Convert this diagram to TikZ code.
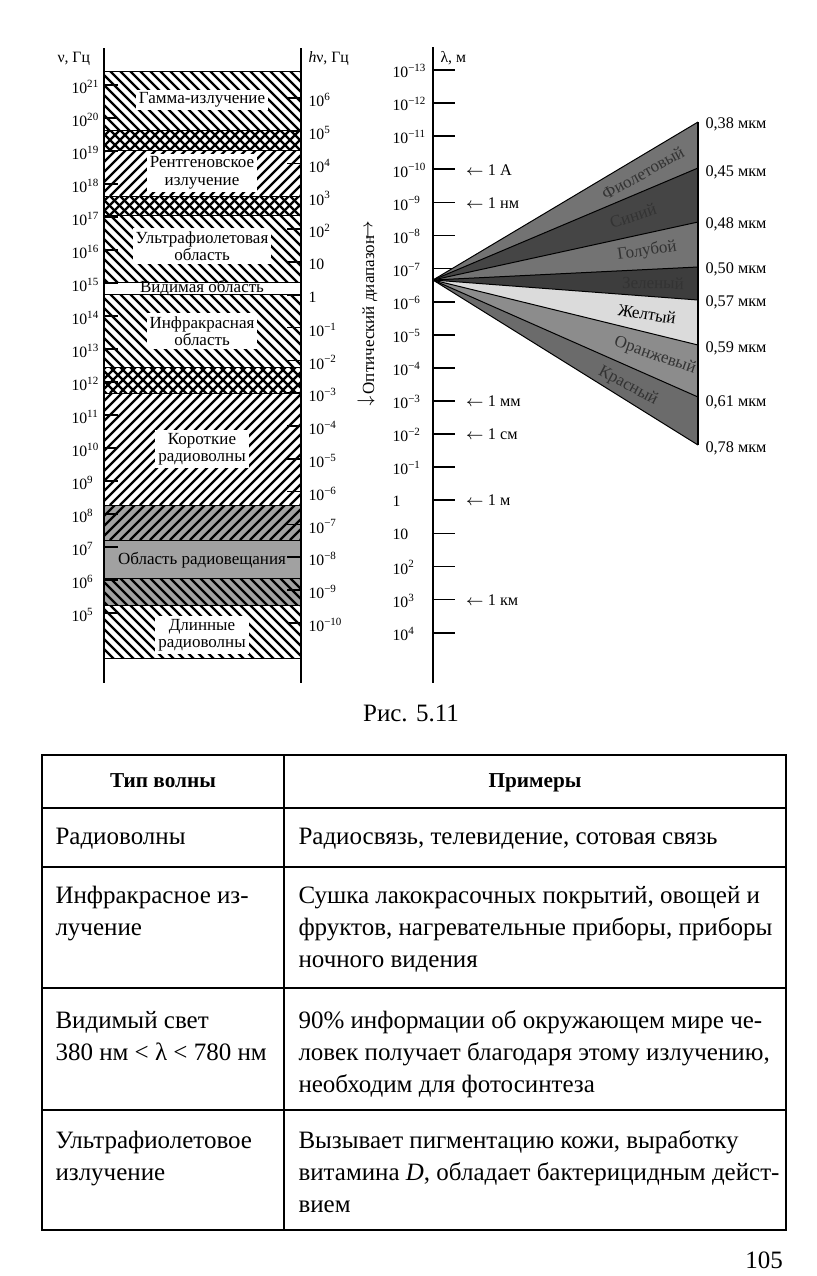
\documentclass[tikz,border=0pt]{standalone}
\usepackage{fontspec}
\setmainfont{Liberation Serif}
\usetikzlibrary{positioning}

\definecolor{cviolet}{gray}{0.45}
\definecolor{cblue}{gray}{0.27}
\definecolor{ccyan}{gray}{0.45}
\definecolor{cgreen}{gray}{0.24}
\definecolor{cyellow}{gray}{0.86}
\definecolor{corange}{gray}{0.55}
\definecolor{cred}{gray}{0.42}
\definecolor{cradio}{gray}{0.63}

\begin{document}
\begin{tikzpicture}[x=0.4pt,y=-0.4pt,
  hatch/.style={line width=0.9pt},
  bandline/.style={line width=0.3pt},
  axis/.style={line width=0.7pt},
  lbl/.style={font=\fontsize{6.8}{7}\selectfont,align=center,fill=white,inner sep=1.2pt},
  tck/.style={font=\fontsize{6.3}{7}\selectfont,anchor=west,inner sep=0pt},
  clr/.style={font=\fontsize{6.8}{7}\selectfont,text=black!80,inner sep=0pt},
  wl/.style={font=\fontsize{6.5}{7}\selectfont,anchor=west,inner sep=0pt},
  cell/.style={font=\fontsize{10}{12.8}\selectfont,align=left,anchor=base west,inner sep=0pt},
  head/.style={font=\fontsize{8.5}{10}\selectfont\bfseries,anchor=base,inner sep=0pt},
  grid/.style={line width=0.75pt}
]
\useasboundingbox (0,0) rectangle (816,1276);

% frequency column: bands
\fill[cradio] (104,505) rectangle (301,605);
\foreach \ya/\yb in {71/130,130/150,196/215,215/282,294/367,367/393,578/605,605/658}{
  \begin{scope}
    \clip (104,\ya) rectangle (301,\yb);
    \foreach \x in {-30,-20,...,300} \draw[hatch] (\x,\ya) -- ++(130,130);
  \end{scope}
}
\foreach \ya/\yb in {130/150,150/196,196/215,367/393,393/505,505/540}{
  \begin{scope}
    \clip (104,\ya) rectangle (301,\yb);
    \foreach \x in {-30,-20,...,300} \draw[hatch] (\x,\yb) -- ++(130,-130);
  \end{scope}
}
\foreach \y in {71,130,150,196,215,282,294,367,393,505,540,578,605,658}
  \draw[bandline] (104,\y) -- (301,\y);
\draw[axis] (104,48) -- (104,683);
\draw[axis] (301,48) -- (301,683);

% left scale
\node[tck] (nuax) at (57,59) {ν, Гц};
\foreach \k in {0,...,16}{
  \pgfmathtruncatemacro\e{21-\k}
  \draw[axis] (104,85+33*\k) -- ++(14,0);
  \node[tck] (nu\k) at (71,87+33*\k) {10\textsuperscript{\e}};
}

% right scale
\node[tck] (hnuax) at (308,59) {\textit{h}ν, Гц};
\foreach \k in {0,...,16}{
  \pgfmathtruncatemacro\e{6-\k}
  \pgfmathtruncatemacro\m{\k-6}
  \draw[axis] (301,98+32.8*\k) -- ++(-14,0);
  \node[tck] (hnu\k) at (308,100+32.8*\k)
    {\ifnum\e=1 10\else\ifnum\e=0 1\else\ifnum\e<0 10\textsuperscript{−\m}\else 10\textsuperscript{\e}\fi\fi\fi};
}

% band names
\node[lbl] (gamma) at (202,100) {Гамма-излучение};
\node[lbl] (xray) at (202,173) {Рентгеновское\\излучение};
\node[lbl] (uv) at (202,246) {Ультрафиолетовая\\область};
\node[font=\fontsize{6.8}{7}\selectfont,inner sep=0pt] (vis) at (202,288) {Видимая область};
\node[lbl] (ir) at (202,331) {Инфракрасная\\область};
\node[lbl] (short) at (202,449) {Короткие\\радиоволны};
\node[font=\fontsize{6.8}{7}\selectfont,inner sep=0pt] (bcast) at (202,560) {Область радиовещания};
\node[lbl] (long) at (202,635) {Длинные\\радиоволны};

% wavelength axis
\draw[axis] (433,47) -- (433,683);
\node[tck] (lamax) at (440,58) {λ, м};
\foreach \k in {0,...,17}{
  \pgfmathtruncatemacro\e{\k-13}
  \pgfmathtruncatemacro\m{13-\k}
  \draw[axis] (433,70+33.1*\k) -- ++(22,0);
  \node[tck] (lam\k) at (392,71+33.1*\k)
    {\ifnum\e=1 10\else\ifnum\e=0 1\else\ifnum\e<0 10\textsuperscript{−\m}\else 10\textsuperscript{\e}\fi\fi\fi};
}
\node[wl] (ang) at (465,170) {$\leftarrow$ 1 A};
\node[wl] (nm) at (465,203) {$\leftarrow$ 1 нм};
\node[wl] (mm) at (465,401) {$\leftarrow$ 1 мм};
\node[wl] (cm) at (465,434) {$\leftarrow$ 1 см};
\node[wl] (m) at (465,500) {$\leftarrow$ 1 м};
\node[wl] (km) at (465,600) {$\leftarrow$ 1 км};

% optical range
\node[rotate=90,font=\fontsize{6.8}{7}\selectfont,inner sep=0pt] (opt) at (370,315) {Оптический диапазон};
\node[rotate=90,font=\fontsize{6.8}{7}\selectfont,inner sep=0pt] (optup) at (369,231) {$\rightarrow$};
\node[font=\fontsize{6.8}{7}\selectfont,inner sep=0pt] (optdn) at (366,402) {$\rightarrow$};

% visible spectrum fan
\coordinate (apex) at (433,280);
\coordinate (w38) at (698,122);
\coordinate (w45) at (698,168);
\coordinate (w48) at (698,222);
\coordinate (w50) at (698,267);
\coordinate (w57) at (698,300);
\coordinate (w59) at (698,345);
\coordinate (w61) at (698,397);
\coordinate (w78) at (698,445);
\fill[cviolet] (apex) -- (w38) -- (w45) -- cycle;
\fill[cblue] (apex) -- (w45) -- (w48) -- cycle;
\fill[ccyan] (apex) -- (w48) -- (w50) -- cycle;
\fill[cgreen] (apex) -- (w50) -- (w57) -- cycle;
\fill[cyellow] (apex) -- (w57) -- (w59) -- cycle;
\fill[corange] (apex) -- (w59) -- (w61) -- cycle;
\fill[cred] (apex) -- (w61) -- (w78) -- cycle;
\foreach \w in {w38,w45,w48,w50,w57,w59,w61,w78}
  \draw[line width=0.4pt] (apex) -- (\w);
\draw[line width=0.5pt] (w38) -- (w78);

\node[clr,rotate=29] (violet) at (643,173) {Фиолетовый};
\node[clr,rotate=18] (blue) at (633,216) {Синий};
\node[clr,rotate=8] (cyan) at (647,251) {Голубой};
\node[clr,rotate=-1] (green) at (653,283) {Зеленый};
\node[clr,rotate=-9,text=black] (yellow) at (647,314) {Желтый};
\node[clr,rotate=-19] (orange) at (655,356) {Оранжевый};
\node[clr,rotate=-28] (red) at (628,386) {Красный};

\node[wl] (l38) at (705,124) {0,38 мкм};
\node[wl] (l45) at (705,172) {0,45 мкм};
\node[wl] (l48) at (705,224) {0,48 мкм};
\node[wl] (l50) at (705,269) {0,50 мкм};
\node[wl] (l57) at (705,302) {0,57 мкм};
\node[wl] (l59) at (705,348) {0,59 мкм};
\node[wl] (l61) at (705,402) {0,61 мкм};
\node[wl] (l78) at (705,448) {0,78 мкм};

\node[font=\fontsize{10}{12}\selectfont] (cap) at (411,713) {Рис. 5.11};

% table (base anchor of a multi-line cell is its last line)
\draw[grid] (42,755) rectangle (786,1230);
\draw[grid] (284,755) -- (284,1230);
\foreach \y in {808,867,988,1110}
  \draw[grid] (42,\y) -- (786,\y);
\node[head] (thtype) at (163,787) {Тип волны};
\node[head] (thex) at (535,787) {Примеры};
\node[cell] (r1a) at (55,844) {Радиоволны};
\node[cell] (r1b) at (298,844) {Радиосвязь, телевидение, сотовая связь};
\node[cell] (r2a) at (55,935) {Инфракрасное из-\\лучение};
\node[cell] (r2b) at (298,967) {Сушка лакокрасочных покрытий, овощей и\\фруктов, нагревательные приборы, приборы\\ночного видения};
\node[cell] (r3a) at (55,1060) {Видимый свет\\380 нм < λ < 780 нм};
\node[cell] (r3b) at (298,1092) {90\% информации об окружающем мире че-\\ловек получает благодаря этому излучению,\\необходим для фотосинтеза};
\node[cell] (r4a) at (55,1180) {Ультрафиолетовое\\излучение};
\node[cell] (r4b) at (298,1212) {Вызывает пигментацию кожи, выработку\\витамина \textit{D}, обладает бактерицидным дейст-\\вием};

\node[font=\fontsize{10}{12}\selectfont] (page) at (764,1260) {105};
\end{tikzpicture}
\end{document}
